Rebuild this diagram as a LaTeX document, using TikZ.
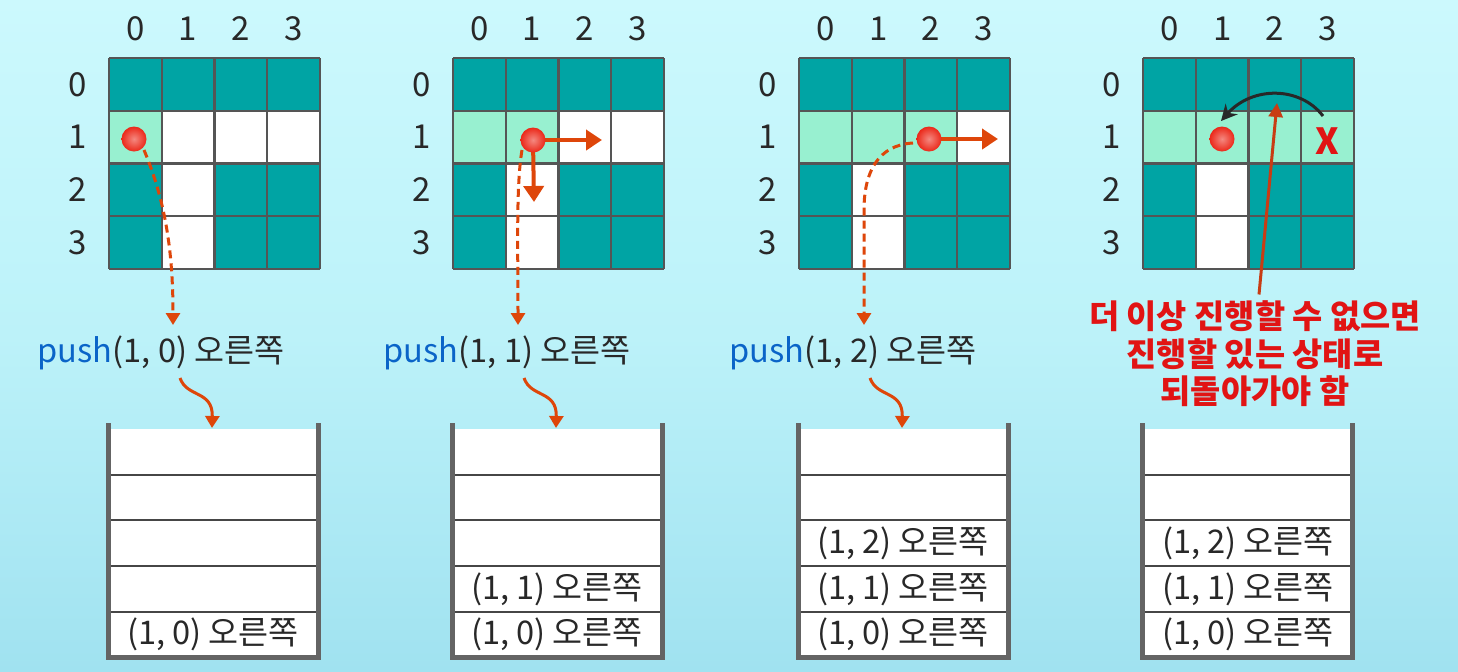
\documentclass[tikz,border=0pt]{standalone}
\usepackage{fontspec}
\setmainfont{Noto Sans CJK KR}
\usetikzlibrary{arrows.meta}
\definecolor{bgtop}{RGB}{204,249,253}
\definecolor{bgmid}{RGB}{188,242,249}
\definecolor{bgbot}{RGB}{160,226,240}
\definecolor{teal1}{RGB}{0,164,164}
\definecolor{lightg}{RGB}{152,240,208}
\definecolor{gridc}{RGB}{85,85,85}
\definecolor{orangeA}{RGB}{222,70,10}
\definecolor{pushblue}{RGB}{10,100,200}
\definecolor{txt}{RGB}{40,40,40}
\definecolor{redtxt}{RGB}{225,20,20}
\definecolor{redarr}{RGB}{200,60,20}
\definecolor{wallc}{RGB}{100,100,100}
\definecolor{sepc}{RGB}{70,70,70}
\definecolor{dotred}{RGB}{235,40,25}
\begin{document}
\begin{tikzpicture}[x=0.5pt,y=-0.5pt,
  gridlbl/.style={text=txt,font=\fontsize{16.5}{18}\selectfont,inner sep=0pt},
  stacktxt/.style={text=txt,font=\fontsize{16.3}{19}\selectfont,inner sep=0pt},
  pushlbl/.style={text=txt,font=\fontsize{16.3}{19}\selectfont,inner sep=0pt},
  gridln/.style={draw=gridc,line width=1.1pt},
  wallln/.style={draw=wallc,line width=2.5pt},
  sepln/.style={draw=sepc,line width=1pt},
  dasharr/.style={draw=orangeA,line width=1.5pt,dash pattern=on 4pt off 2.5pt,-{Triangle[length=6pt,width=7pt]}},
  solidarr/.style={draw=orangeA,line width=2pt,-{Triangle[length=8pt,width=10pt]}},
  wavyarr/.style={draw=orangeA,line width=1.5pt,-{Triangle[length=6pt,width=7pt]}},
  dotball/.style={inner color=dotred!55!white,outer color=dotred}
]
\useasboundingbox (0,0) rectangle (1458,671);
\shade[top color=bgtop,bottom color=bgbot,middle color=bgmid] (0,0) rectangle (1458,671);

\foreach \p/\xo in {0/109,1/453,2/799,3/1143}{
  % cells
  \foreach \r in {0,...,3}{
    \foreach \c in {0,...,3}{
      \def\cc{teal1}
      \ifnum\r=1 \ifnum\c>\p \def\cc{white}\else\def\cc{lightg}\fi\fi
      \ifnum\r>1 \ifnum\c=1 \def\cc{white}\fi\fi
      \fill[\cc] ({\xo+52.75*\c},{58+52.75*\r}) rectangle +(52.75,52.75);
    }
  }
  \foreach \k in {0,...,4}{
    \draw[gridln] ({\xo+52.75*\k},58) -- ({\xo+52.75*\k},269);
    \draw[gridln] (\xo,{58+52.75*\k}) -- ({\xo+211},{58+52.75*\k});
  }
  \foreach \k in {0,...,3}{
    \node[gridlbl] (col\p\k) at ({\xo+52.75*\k+26.4},29) {\k};
    \node[gridlbl] (row\p\k) at ({\xo-31},{58+52.75*\k+26.4}) {\k};
  }
  % stack
  \fill[white] (\xo,429) rectangle ({\xo+209},657);
  \foreach \yy in {475,520,566,612}{
    \draw[sepln] (\xo,\yy) -- ({\xo+209},\yy);
  }
  \draw[wallln] (\xo-1,423) -- (\xo-1,657) -- ({\xo+209},657) -- ({\xo+209},423);
  \coordinate (stk\p) at ({\xo+103},428);
}

% stack texts
\node[stacktxt] (s0a) at (213,634) {(1, 0) 오른쪽};
\node[stacktxt] (s1b) at (557,589) {(1, 1) 오른쪽};
\node[stacktxt] (s1a) at (557,634) {(1, 0) 오른쪽};
\node[stacktxt] (s2c) at (903,543) {(1, 2) 오른쪽};
\node[stacktxt] (s2b) at (903,589) {(1, 1) 오른쪽};
\node[stacktxt] (s2a) at (903,634) {(1, 0) 오른쪽};
\node[stacktxt] (s3c) at (1248,543) {(1, 2) 오른쪽};
\node[stacktxt] (s3b) at (1248,589) {(1, 1) 오른쪽};
\node[stacktxt] (s3a) at (1248,634) {(1, 0) 오른쪽};

% push labels
\node[pushlbl] (push0) at (161,353) {{\color{pushblue}push}(1, 0) 오른쪽};
\node[pushlbl] (push1) at (507,353) {{\color{pushblue}push}(1, 1) 오른쪽};
\node[pushlbl] (push2) at (853,353) {{\color{pushblue}push}(1, 2) 오른쪽};

% wavy arrows
\foreach \p/\xo in {0/109,1/453,2/799}{
  \coordinate (wv\p) at ({\xo+71},378);
  \draw[wavyarr] (wv\p) .. controls ({\xo+78},398) and ({\xo+104},390) .. (stk\p);
}

% panel 1
\coordinate (d0) at (134,139);
\coordinate (t0) at (173,325);
\draw[dasharr] (144,150) .. controls (165,200) and (173,250) .. (t0);
\shade[dotball] (d0) circle (12.5);

% panel 2
\coordinate (d1) at (533,140);
\coordinate (t1) at (518,325);
\coordinate (r1) at (602,140);
\coordinate (b1) at (534,202);
\draw[dasharr] (522,150) .. controls (516,185) and (518,250) .. (t1);
\draw[solidarr] (d1) -- (r1);
\draw[solidarr] (d1) -- (b1);
\shade[dotball] (d1) circle (12.5);

% panel 3
\coordinate (d2) at (929,139);
\coordinate (t2) at (864,325);
\coordinate (r2) at (998,139);
\draw[dasharr] (913,143) .. controls (878,145) and (864,172) .. (864,210) -- (t2);
\draw[solidarr] (d2) -- (r2);
\shade[dotball] (d2) circle (12.5);

% panel 4
\coordinate (d3) at (1222,139);
\shade[dotball] (d3) circle (12.5);
\node[text=redtxt,font=\bfseries\fontsize{18}{20}\selectfont,inner sep=0pt] (xmark) at (1327,141) {X};
\coordinate (a3s) at (1323,116);
\coordinate (a3e) at (1221,121);
\draw[draw=txt,line width=1.5pt,-{Stealth[length=8pt,width=8pt]}] (a3s) .. controls (1300,86) and (1252,86) .. (a3e);
\node[text=redtxt,font=\bfseries\fontsize{16.4}{18.8}\selectfont,align=center,inner sep=0pt] (msg) at (1255,354)
  {더 이상 진행할 수 없으면\\진행할 있는 상태로\\되돌아가야 함};
\coordinate (m3) at (1277,103);
\draw[draw=redarr,line width=1.5pt,-{Triangle[length=7pt,width=7pt]}] (msg.north) ++(4,-6) -- (m3);
\end{tikzpicture}
\end{document}
